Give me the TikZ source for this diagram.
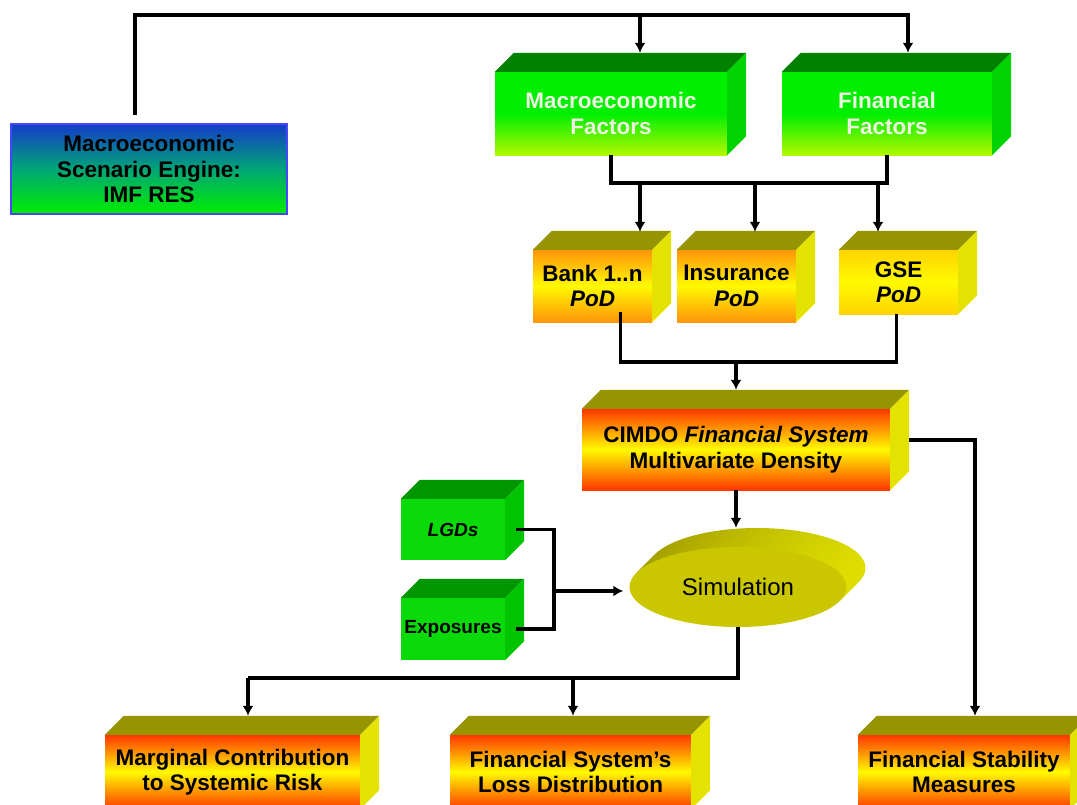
\documentclass[tikz,border=0pt]{standalone}
\usepackage{fontspec}
\setmainfont{Liberation Sans}
\usetikzlibrary{arrows.meta, shapes.geometric}

\definecolor{olivetop}{RGB}{150,148,0}
\definecolor{yelside}{RGB}{228,226,0}
\definecolor{redend}{RGB}{255,55,0}
\definecolor{orgend}{RGB}{255,148,10}
\definecolor{gseend}{RGB}{255,212,0}
\definecolor{yelmid}{RGB}{255,250,0}
\definecolor{grntop}{RGB}{0,130,0}
\definecolor{grnside}{RGB}{0,212,0}
\definecolor{grnfront}{RGB}{0,238,0}
\definecolor{limefront}{RGB}{178,248,0}
\definecolor{smalltop}{RGB}{0,150,0}
\definecolor{smallfront}{RGB}{10,218,10}
\definecolor{smallside}{RGB}{0,196,0}
\definecolor{engblue}{RGB}{20,60,200}
\definecolor{engmid}{RGB}{0,165,120}
\definecolor{engline}{RGB}{70,70,255}
\definecolor{simface}{RGB}{202,198,0}
\definecolor{simback}{RGB}{162,157,0}
\definecolor{simrim}{RGB}{222,222,0}
\definecolor{paletext}{RGB}{238,240,225}

% top and right faces of a box node
\newcommand{\boxsides}[3]{%
	\fill[#2] (#1.north west) -- ++(19,-19) -- ([shift={(19,-19)}]#1.north east) -- (#1.north east) -- cycle;
	\fill[#3] (#1.north east) -- ++(19,-19) -- ([shift={(19,-19)}]#1.south east) -- (#1.south east) -- cycle;
}

\begin{document}
\begin{tikzpicture}[x=1pt, y=-1pt,
	wire/.style={line width=3.5pt},
	arr/.style={wire, -{Latex[length=10pt,width=11pt]}},
	front/.style={inner sep=0pt, align=center, font=\fontsize{22.5}{25.5}\selectfont\bfseries},
	hotbox/.style={front, top color=redend, bottom color=redend, middle color=yelmid},
	podbox/.style={front, top color=orgend, bottom color=orgend, middle color=yelmid},
	greenbox/.style={front, top color=grnfront, bottom color=limefront, middle color=grnfront, text=paletext},
	smallgreen/.style={front, fill=smallfront, font=\fontsize{19}{22}\selectfont\bfseries}]

	\useasboundingbox (0,0) rectangle (1077,804);
	\clip (0,0) rectangle (1077,804);

	\node[front, draw=engline, line width=2pt, top color=engblue, bottom color=grnfront, middle color=engmid,
		minimum width=276pt, minimum height=90pt] (engine) at (149,169) {Macroeconomic\\Scenario Engine:\\IMF RES};

	\node[greenbox, minimum width=232pt, minimum height=83pt] (macro) at (611,113.5) {Macroeconomic\\Factors};
	\node[greenbox, minimum width=210pt, minimum height=83pt] (fin) at (887,113.5) {Financial\\Factors};
	\boxsides{macro}{grntop}{grnside}
	\boxsides{fin}{grntop}{grnside}

	\node[podbox, minimum width=119pt, minimum height=72pt] (bank) at (592.5,286) {Bank 1..n\\\textit{PoD}};
	\node[podbox, minimum width=119pt, minimum height=72pt] (insur) at (736.5,286) {Insurance\\\textit{PoD}};
	\node[podbox, top color=gseend, bottom color=gseend, middle color=yelmid,
		minimum width=119pt, minimum height=64pt] (gse) at (898.5,282) {GSE\\\textit{PoD}};
	\boxsides{bank}{olivetop}{yelside}
	\boxsides{insur}{olivetop}{yelside}
	\boxsides{gse}{olivetop}{yelside}

	\node[hotbox, minimum width=308pt, minimum height=81pt] (cimdo) at (736,449.5) {CIMDO \textit{Financial System}\\Multivariate Density};
	\boxsides{cimdo}{olivetop}{yelside}

	\node[smallgreen, minimum width=104pt, minimum height=61pt] (lgd) at (453,529.5) {\textit{LGDs}};
	\node[smallgreen, minimum width=104pt, minimum height=62pt] (expo) at (453,629) {Exposures};
	\boxsides{lgd}{smalltop}{smallside}
	\boxsides{expo}{smalltop}{smallside}

	% extruded disc behind the simulation face
	\foreach \s in {19,17,...,1}
		\shade[left color=simback, right color=simrim] (738+\s,587-\s) ellipse [x radius=108.5, y radius=40];
	\node[ellipse, fill=simface, inner sep=0pt, minimum width=217pt, minimum height=80pt,
		font=\fontsize{24}{28}\selectfont] (sim) at (738,587) {Simulation};

	\node[hotbox, minimum width=255pt, minimum height=74pt] (marg) at (232.5,772) {Marginal Contribution\\to Systemic Risk};
	\node[hotbox, minimum width=241pt, minimum height=74pt] (loss) at (570.5,772) {Financial System’s\\Loss Distribution};
	\node[hotbox, minimum width=212pt, minimum height=74pt] (stab) at (964,772) {Financial Stability\\Measures};
	\boxsides{marg}{olivetop}{yelside}
	\boxsides{loss}{olivetop}{yelside}
	\boxsides{stab}{olivetop}{yelside}

	% connectors
	\coordinate (up) at (135,15);
	\coordinate (tapM) at (640,15);
	\coordinate (tapF) at (908,15);
	\draw[arr] ([yshift=8pt]engine.north -| up) -- (up) -| ([yshift=19pt]fin.north -| tapF);
	\draw[arr] (tapM) -- ([yshift=19pt]macro.north -| tapM);

	\coordinate (b1) at (640,183);
	\coordinate (b2) at (755,183);
	\coordinate (b3) at (878,183);
	\draw[wire] (macro.south) |- (b2) -| (fin.south);
	\draw[arr] (b1) -- ([yshift=18pt]bank.north -| b1);
	\draw[arr] (b2) -- ([yshift=18pt]insur.north -| b2);
	\draw[arr] (b3) -- ([yshift=18pt]gse.north -| b3);

	\coordinate (bus) at (736,362);
	\draw[wire] ([xshift=28pt,yshift=10pt]bank.south) |- (bus) -| ([xshift=-2pt]gse.south);
	\draw[arr] (bus) -- ([yshift=19pt]cimdo.north -| bus);

	\coordinate (side) at (975,440);
	\draw[arr] ([xshift=19pt]cimdo.east |- side) -- (side) -- ([yshift=19pt]stab.north -| side);

	\draw[arr] (cimdo.south) -- ([yshift=19pt]sim.north -| cimdo.south);

	\coordinate (fork) at (554,591);
	\draw[wire] ([xshift=11pt]lgd.east) -| (fork) |- ([xshift=11pt]expo.east);
	\draw[arr] (fork) -- ([xshift=-6pt]sim.west |- fork);

	\coordinate (b4) at (248,678);
	\coordinate (b5) at (573,678);
	\draw[wire] (sim.south) |- (b4);
	\draw[arr] (b4) -- ([yshift=19pt]marg.north -| b4);
	\draw[arr] (b5) -- ([yshift=19pt]loss.north -| b5);

\end{tikzpicture}
\end{document}
